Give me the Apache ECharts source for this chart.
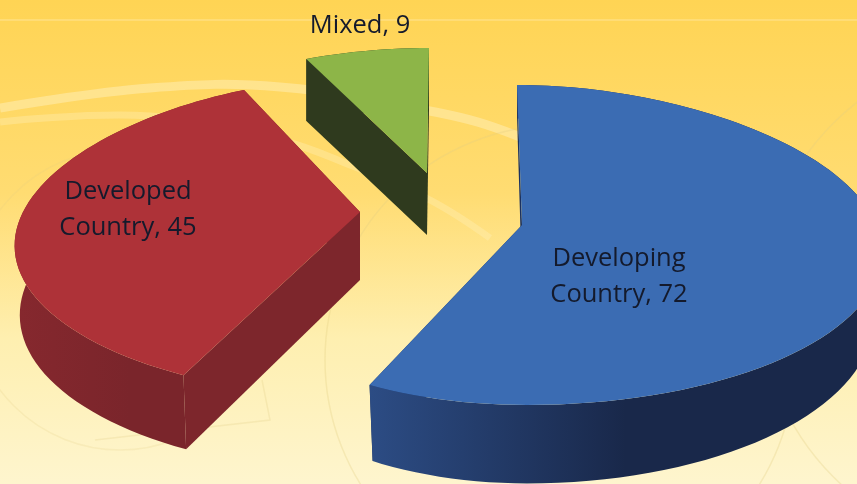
<!DOCTYPE html>
<html>
<head>
<meta charset="utf-8">
<style>html,body{margin:0;padding:0;background:#fff}#c{width:857px;height:484px}</style>
<script src="https://cdn.jsdelivr.net/npm/echarts@6/dist/echarts.min.js"></script>
</head>
<body>
<div id="c"></div>
<script>
var categories = ['Developing\nCountry', 'Developed\nCountry', 'Mixed'];
var values = [72, 45, 9];

// Drawing geometry of each exploded slice (apex, projection and extrusion)
var apexX = [522, 360, 427];
var apexY = [225, 212, 173];
var radiusLeft = [275, 337, 352];
var radiusRight = [340, 337, 352];
var heightV = [157.5, 155, 142.5];
var perspX = [0.35, 0.23, 0.22];
var perspY = [0.125, 0.16, 0.14];
var shear = [5, 0, -2];
var tiltRight = [24, 0, 0];
var depth = [56, 68, 62];
var depthK = [0.4, 0.1, 0];
var taper = [0.98, 0.985, 1];
var topColors = ['#3B6CB3', '#AE3238', '#8DB548'];
var wallLeft = ['#2C4C84', '#86282E', '#2F3A1E'];
var wallRight = ['#19284A', '#7A252B', '#2F3A1E'];
var radialColors = ['#1B3160', '#7D262C', '#2F3A1E'];
var labelX = [619, 128, 360];
var labelY = [277, 210, 26];

var total = values.reduce(function (a, b) { return a + b; }, 0);

function sliceAngles(i) {
  var a = 0;
  for (var k = 0; k < i; k++) a += values[k];
  return [a / total * 360, (a + values[i]) / total * 360];
}
function project(i, deg) {
  var t = deg * Math.PI / 180, u = Math.sin(t), v = -Math.cos(t);
  var r = u < 0 ? radiusLeft[i] : radiusRight[i];
  var up = Math.max(u, 0);
  return [
    apexX[i] + r * u * (1 + perspX[i] * v) + shear[i] * v,
    apexY[i] + heightV[i] * v / (1 - perspY[i] * v) - tiltRight[i] * up * up,
    v
  ];
}
function lower(i, p) {
  var d = depth[i] * (1 + depthK[i] * p[2]);
  return [apexX[i] + (p[0] - apexX[i]) * taper[i], p[1] + d];
}
function renderSlice(params) {
  var i = params.dataIndex, ang = sliceAngles(i);
  var rim = [];
  for (var d = ang[0]; d < ang[1]; d += 2) rim.push(project(i, d));
  rim.push(project(i, ang[1]));
  var apex = [apexX[i], apexY[i]];
  var apexLow = [apexX[i], apexY[i] + depth[i]];
  var first = rim[0], last = rim[rim.length - 1];
  var flat = rim.map(function (p) { return [p[0], p[1]]; });
  var low = rim.map(function (p) { return lower(i, p); }).reverse();
  var kids = [
    { type: 'polygon', shape: { points: [apex, [first[0], first[1]], lower(i, first), apexLow] }, style: { fill: radialColors[i] } },
    { type: 'polygon', shape: { points: [apex, [last[0], last[1]], lower(i, last), apexLow] }, style: { fill: radialColors[i] } },
    { type: 'polygon', shape: { points: flat.concat(low) },
      style: { fill: new echarts.graphic.LinearGradient(0, 0, 1, 0, [
        { offset: 0, color: wallLeft[i] }, { offset: 0.5, color: wallRight[i] }, { offset: 1, color: wallRight[i] }]) } },
    { type: 'polygon', shape: { points: [apex].concat(flat) }, style: { fill: topColors[i] } },
    { type: 'text', style: {
      x: labelX[i], y: labelY[i],
      text: categories[i] + ', ' + values[i],
      fill: '#141A2C', font: '25.5px "Open Sans", sans-serif',
      lineHeight: 36, align: 'center', verticalAlign: 'middle'
    }, z2: 10 }
  ];
  return { type: 'group', children: kids };
}

function band(points, w, op) {
  return { type: 'polyline', silent: true,
    shape: { points: points, smooth: 0.4 },
    style: { fill: 'none', stroke: 'rgba(255,240,185,' + op + ')', lineWidth: w } };
}
function ring(cx, cy, r, w, op) {
  return { type: 'circle', silent: true, shape: { cx: cx, cy: cy, r: r },
    style: { fill: 'none', stroke: 'rgba(225,205,130,' + op + ')', lineWidth: w } };
}

var chart = echarts.init(document.getElementById('c'), null, { renderer: 'canvas' });
chart.setOption({
  animation: false,
  backgroundColor: new echarts.graphic.LinearGradient(0, 0, 0, 1, [
    { offset: 0, color: '#FFD454' },
    { offset: 0.4, color: '#FFDC72' },
    { offset: 0.7, color: '#FEEFB0' },
    { offset: 1, color: '#FEF5CE' }
  ]),
  graphic: [
    { type: 'group', silent: true, z: 0, children: [
      { type: 'line', shape: { x1: 0, y1: 20, x2: 857, y2: 20 }, style: { stroke: 'rgba(255,240,190,0.6)', lineWidth: 1 } },
      band([[0, 108], [150, 88], [280, 87], [440, 113], [515, 135], [600, 175]], 9, 0.5),
      band([[0, 122], [150, 116], [280, 140], [350, 165], [430, 200], [490, 238]], 7, 0.35),
      ring(560, 360, 235, 1.5, 0.3),
      ring(1010, 300, 250, 1.5, 0.3),
      ring(120, 300, 150, 1.5, 0.2),
      { type: 'polyline', shape: { points: [[95, 440], [270, 420], [262, 380]] }, style: { fill: 'none', stroke: 'rgba(225,205,130,0.25)', lineWidth: 1.5 } }
    ] }
  ],
  series: [{
    type: 'custom',
    coordinateSystem: 'none',
    z: 5,
    renderItem: renderSlice,
    data: values.map(function (v, i) { return { name: categories[i], value: v }; })
  }]
});
</script>
</body>
</html>
